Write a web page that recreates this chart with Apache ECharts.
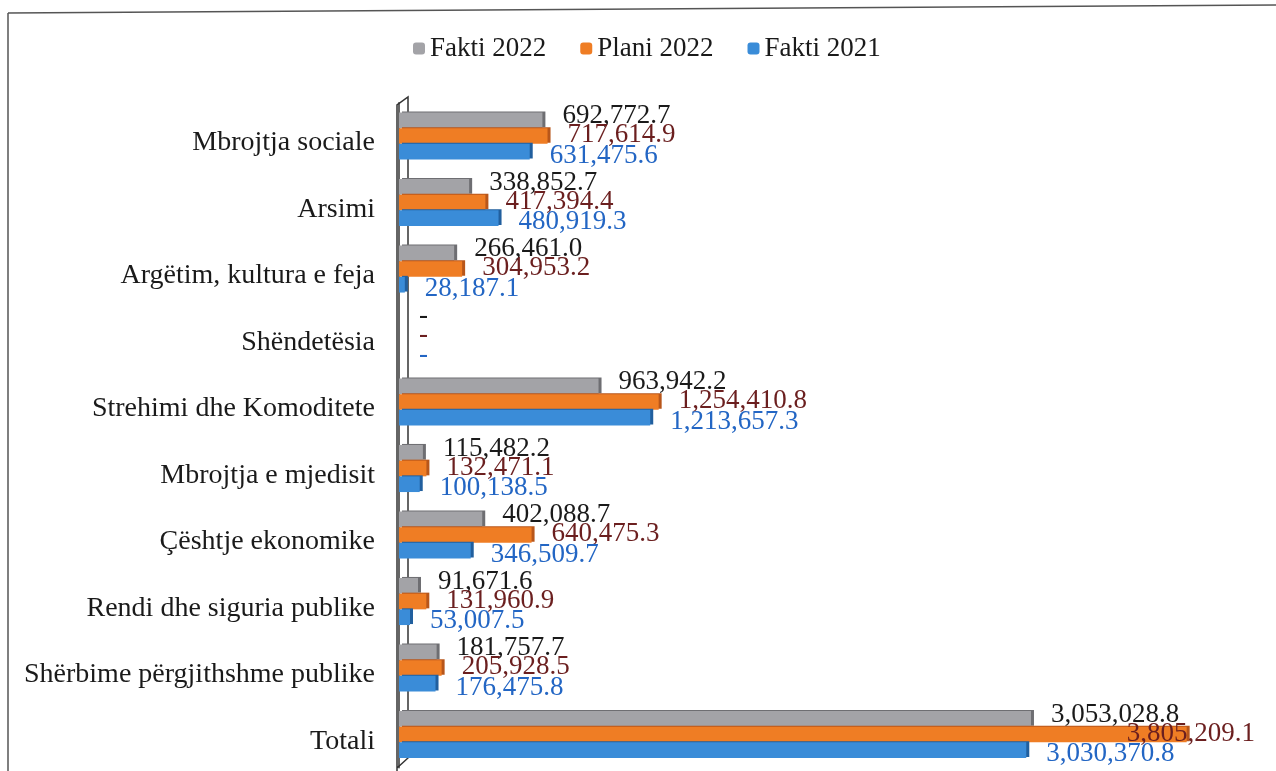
<!DOCTYPE html>
<html><head><meta charset="utf-8">
<script src="https://cdn.jsdelivr.net/npm/echarts@6/dist/echarts.min.js"></script>
<style>html,body{margin:0;padding:0;background:#fff}#c{width:1276px;height:771px}</style>
</head><body><div id="c"></div>
<script>
const categories = ["Mbrojtja sociale","Arsimi","Argëtim, kultura e feja","Shëndetësia","Strehimi dhe Komoditete","Mbrojtja e mjedisit","Çështje ekonomike","Rendi dhe siguria publike","Shërbime përgjithshme publike","Totali"];
const fakti2022 = [692772.7,338852.7,266461.0,0,963942.2,115482.2,402088.7,91671.6,181757.7,3053028.8];
const plani2022 = [717614.9,417394.4,304953.2,0,1254410.8,132471.1,640475.3,131960.9,205928.5,3805209.1];
const fakti2021 = [631475.6,480919.3,28187.1,0,1213657.3,100138.5,346509.7,53007.5,176475.8,3030370.8];
const seriesNames = ["Fakti 2022","Plani 2022","Fakti 2021"];

const FONT = '"Liberation Serif", "Times New Roman", serif';
const fmt = v => v === 0 ? '-' : v.toLocaleString('en-US',{minimumFractionDigits:1,maximumFractionDigits:1});

function mk(name, vals, color, shade, labelColor, dy, overrides) {
  return {
    name, type:'bar', barWidth:15.7, barGap:'0%',
    data: vals.map((v,i) => overrides && overrides[i] ? Object.assign({value:v}, overrides[i]) : v),
    itemStyle:{color, shadowColor:shade, shadowOffsetX:3, shadowOffsetY:-1, shadowBlur:0},
    label:{show:true, position:'right', distance:20, offset:[0,dy], color:labelColor,
      fontFamily:FONT, fontSize:27, formatter:p=>fmt(p.value)},
    z:3
  };
}

const chart = echarts.init(document.getElementById('c'));
chart.setOption({
  animation:false,
  backgroundColor:'#fff',
  legend:{left:408, top:30, itemWidth:12, itemHeight:12, itemGap:34,
    textStyle:{fontFamily:FONT, fontSize:27, color:'#1a1a1a'}, data:seriesNames},
  grid:{left:399, right:49, top:102.75, height:665, containLabel:false},
  xAxis:{type:'value', min:0, max:4000000, show:false},
  yAxis:{type:'category', data:categories, inverse:true,
    axisLine:{show:true, lineStyle:{color:'#333', width:1.5}},
    axisTick:{show:false},
    axisLabel:{margin:24, fontFamily:FONT, fontSize:28, color:'#1a1a1a',
      formatter: v => '{a|' + v + '}',
      rich:{a:{fontFamily:FONT, fontSize:28, color:'#1a1a1a', padding:[14,0,0,0]}}}},
  series:[
    mk(seriesNames[0], fakti2022, '#a3a3a7', '#6e6e72', '#1a1a1a', -4),
    mk(seriesNames[1], plani2022, '#ef7d24', '#b8561a', '#6b1f1f', -1, {9:{label:{offset:[-80,-1]}}}),
    mk(seriesNames[2], fakti2021, '#3a8cd8', '#215f9e', '#2366c4', 4)
  ],
  graphic:[
    {type:'line', shape:{x1:8,y1:13,x2:1276,y2:5}, style:{stroke:'#555', lineWidth:1.5}},
    {type:'line', shape:{x1:8,y1:13,x2:8,y2:771}, style:{stroke:'#555', lineWidth:1.5}},
    {type:'polyline', shape:{points:[[397,771],[397,105],[408,97],[408,758],[397,768]]}, style:{stroke:'#333', lineWidth:1.5, fill:null}, z:0}
  ]
});
</script></body></html>
